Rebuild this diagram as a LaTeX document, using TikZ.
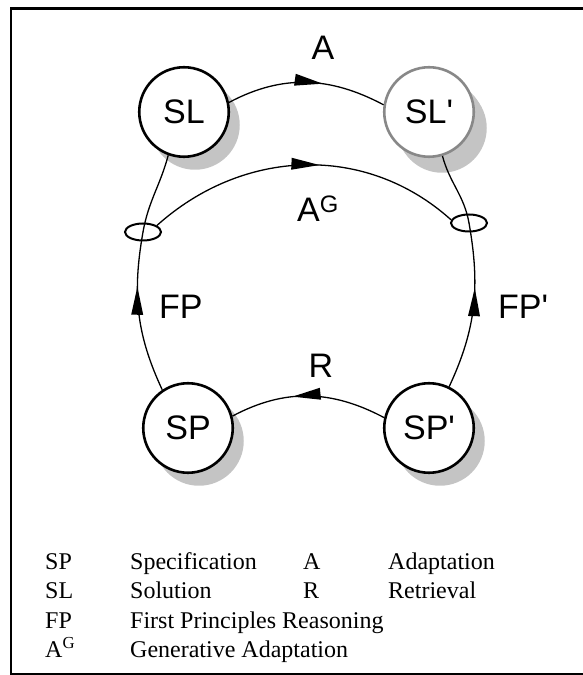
\documentclass[tikz,border=0pt]{standalone}
\usepackage{fontspec}
\setmainfont{Liberation Sans}
\newfontfamily\legfont{Liberation Serif}
\usetikzlibrary{shapes.geometric,shadows,decorations.markings}
\definecolor{shadowgray}{RGB}{196,196,196}
\definecolor{outlinegray}{RGB}{136,136,136}
\begin{document}
\begin{tikzpicture}[x=1pt,y=1pt,
  state/.style={circle, draw, line width=2.6pt, minimum size=89.5pt, inner sep=0pt, fill=white,
     font=\fontsize{34}{40}\selectfont,
     drop shadow={shadow xshift=11pt, shadow yshift=-13pt, fill=shadowgray, opacity=1, draw=none}},
  joint/.style={ellipse, draw, line width=2pt, minimum width=36pt, minimum height=17pt, inner sep=0pt},
  conn/.style={line width=1.3pt},
  midarrow/.style={postaction={decorate}, decoration={markings,
     mark=at position #1 with {\fill (-28pt,-6pt) -- (0pt,0pt) -- (-28pt,6pt) -- cycle;}}},
  lbl/.style={font=\fontsize{34}{40}\selectfont, inner sep=0pt, anchor=base},
  leg/.style={font=\legfont\fontsize{24}{28}\selectfont, inner sep=0pt, anchor=base west}
]
\useasboundingbox (0,0) rectangle (583,675);
% frame
\draw[line width=2.8pt] (600,666.5) -- (10,666.5);
\draw[line width=2pt] (11.3,667.5) -- (11.3,1.3);
\draw[line width=2.2pt] (10,1.3) -- (600,1.3);

% states
\node[state] (SL) at (184,563) {SL};
\node[state, draw=outlinegray, drop shadow={shadow xshift=13pt, shadow yshift=-16pt, fill=shadowgray, opacity=1, draw=none}] (SLp) at (429,563) {SL\textquotesingle};
\node[state] (SP) at (188,247) {SP};
\node[state] (SPp) at (429,247) {SP\textquotesingle};

% joints
\node[joint] (eL) at (143,443) {};
\node[joint] (eR) at (469,452) {};

% connectors
\draw[conn, midarrow=0.6] (SL.12) to[out=28,in=152] (SLp.171);
\draw[conn, midarrow=0.55] (eL.25) to[out=42,in=138] (eR.170);
\draw[conn, midarrow=0.6] (SPp.167) to[out=152,in=28] (SP.15);
\draw[conn] (SL.250) to[out=255,in=80] (eL.center);
\draw[conn, midarrow=0.66] (SP.124) to[out=115,in=260] (eL.center);
\draw[conn] (SLp.287) to[out=285,in=100] (eR.center);
\draw[conn, midarrow=0.61] (SPp.64) to[out=65,in=280] (eR.center);

% labels
\node[lbl] (lA) at (323,615) {A};
\node[lbl] (lAG) at (318,453) {A\textsuperscript{G}};
\node[lbl] (lR) at (321,297) {R};
\node[lbl, anchor=base west] (lFP) at (159,356) {FP};
\node[lbl, anchor=base west] (lFPp) at (498,356) {FP\textquotesingle};

% legend
\node[leg] (k1) at (45,105.5) {SP};
\node[leg] (d1) at (130,105.5) {Specification};
\node[leg] (k2) at (303,105.5) {A};
\node[leg] (d2) at (388,105.5) {Adaptation};
\node[leg] (k3) at (45,76) {SL};
\node[leg] (d3) at (130,76) {Solution};
\node[leg] (k4) at (303,76) {R};
\node[leg] (d4) at (388,76) {Retrieval};
\node[leg] (k5) at (45,46.5) {FP};
\node[leg] (d5) at (130,46.5) {First Principles Reasoning};
\node[leg] (k6) at (45,17) {A\textsuperscript{G}};
\node[leg] (d6) at (130,17) {Generative Adaptation};
\end{tikzpicture}
\end{document}
